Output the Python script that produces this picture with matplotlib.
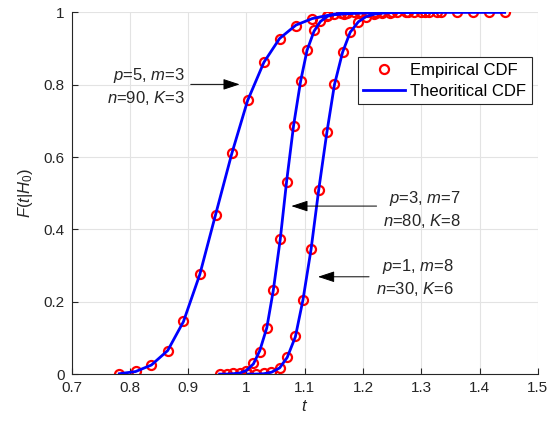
import matplotlib
matplotlib.use("Agg")
import matplotlib.pyplot as plt
from matplotlib.ticker import FuncFormatter

plt.rcParams['font.family'] = ['Liberation Sans', 'DejaVu Sans']
plt.rcParams['mathtext.fontset'] = 'custom'
plt.rcParams['mathtext.rm'] = 'Liberation Sans'
plt.rcParams['mathtext.it'] = 'Liberation Sans:italic'
plt.rcParams['font.size'] = 11

# Данные, считанные с графика
# p=5, m=3, n=90, K=3
t1 = [0.782, 0.810, 0.837, 0.865, 0.892, 0.920, 0.947, 0.975, 1.002, 1.030,
      1.057, 1.085, 1.113, 1.140, 1.168, 1.195, 1.223, 1.250, 1.278, 1.306,
      1.333, 1.361, 1.388, 1.416, 1.443]
emp1 = [0.0, 0.008, 0.026, 0.064, 0.147, 0.276, 0.440, 0.612, 0.759, 0.863,
        0.926, 0.962, 0.983, 0.992, 0.996, 0.998, 0.999, 1.0, 1.0, 1.0,
        1.0, 1.0, 1.0, 1.0, 1.0]
theo1 = [0.001, 0.007, 0.025, 0.065, 0.145, 0.275, 0.440, 0.610, 0.756, 0.862,
         0.928, 0.965, 0.983, 0.992, 0.996, 0.998, 0.999, 1.0, 1.0, 1.0,
         1.0, 1.0, 1.0, 1.0, 1.0]

# p=3, m=7, n=80, K=8
t2 = [0.954, 0.966, 0.977, 0.989, 1.000, 1.012, 1.023, 1.035, 1.046, 1.058,
      1.069, 1.081, 1.093, 1.104, 1.116, 1.127, 1.139, 1.150, 1.162, 1.173,
      1.185, 1.196, 1.208, 1.220, 1.231]
emp2 = [0.0, 0.0, 0.003, 0.004, 0.009, 0.030, 0.062, 0.128, 0.232, 0.374,
        0.532, 0.686, 0.810, 0.896, 0.951, 0.976, 0.989, 0.995, 0.998, 0.999,
        1.0, 1.0, 1.0, 1.0, 1.0]
theo2 = [0.0, 0.0, 0.001, 0.003, 0.010, 0.028, 0.065, 0.128, 0.230, 0.372,
         0.533, 0.688, 0.810, 0.895, 0.948, 0.975, 0.989, 0.995, 0.998, 0.999,
         1.0, 1.0, 1.0, 1.0, 1.0]

# p=1, m=8, n=30, K=6
t3 = [1.003, 1.016, 1.030, 1.043, 1.057, 1.070, 1.084, 1.097, 1.111, 1.124,
      1.138, 1.151, 1.165, 1.178, 1.192, 1.205, 1.219, 1.232, 1.246, 1.259,
      1.273, 1.287, 1.300, 1.314, 1.327]
emp3 = [0.0, 0.0, 0.004, 0.006, 0.016, 0.046, 0.105, 0.205, 0.346, 0.509,
        0.670, 0.801, 0.891, 0.946, 0.974, 0.988, 0.995, 0.998, 0.999, 1.0,
        1.0, 1.0, 1.0, 1.0, 1.0]
theo3 = [0.0, 0.0, 0.001, 0.005, 0.017, 0.046, 0.103, 0.205, 0.346, 0.509,
         0.668, 0.800, 0.890, 0.945, 0.974, 0.988, 0.995, 0.998, 0.999, 1.0,
         1.0, 1.0, 1.0, 1.0, 1.0]

labels = [r'$p$=5, $m$=3' + '\n' + r'$n$=90, $K$=3',
          r'$p$=3, $m$=7' + '\n' + r'$n$=80, $K$=8',
          r'$p$=1, $m$=8' + '\n' + r'$n$=30, $K$=6']

fig = plt.figure(figsize=(5.5, 4.28), dpi=100)
ax = fig.add_axes([0.130, 0.126, 0.848, 0.845])

edge = '#262626'
series = [(t1, emp1, theo1), (t2, emp2, theo2), (t3, emp3, theo3)]
for i, (t, e, th) in enumerate(series):
    ax.plot(t, th, '-', color='#0000ff', lw=2.0, zorder=3,
            label='Theoritical CDF' if i == 0 else None)
    ax.plot(t, e, 'o', mfc='none', mec='#ff0000', mew=1.6, ms=6.5, zorder=2,
            label='Empirical CDF' if i == 0 else None)

ax.set_xlim(0.7, 1.5)
ax.set_ylim(0, 1)
ax.set_xticks([0.7, 0.8, 0.9, 1.0, 1.1, 1.2, 1.3, 1.4, 1.5])
ax.set_yticks([0, 0.2, 0.4, 0.6, 0.8, 1.0])
fmt = FuncFormatter(lambda v, p: f"{v:g}")
ax.xaxis.set_major_formatter(fmt)
ax.yaxis.set_major_formatter(fmt)
ax.grid(True, color='#e3e3e3', lw=0.8)
ax.set_axisbelow(True)
for s in ['top', 'right']:
    ax.spines[s].set_visible(False)
for s in ['left', 'bottom']:
    ax.spines[s].set_color(edge)
    ax.spines[s].set_linewidth(0.8)
ax.tick_params(direction='in', length=4, color=edge, labelcolor=edge,
               labelsize=11, top=False, right=False)
ax.tick_params(axis='x', pad=5)
ax.tick_params(axis='y', pad=5)

ax.set_xlabel(r'$t$', fontsize=12, color=edge, labelpad=3)
ax.set_ylabel(r'$F(t|H_0)$', fontsize=12, color=edge, labelpad=6)

# Подписи со стрелками
ann = [((0.9885, 0.801), (0.9045, 0.801), (0.8946, 0.795)),
       ((1.077, 0.4645), (1.2233, 0.4645), (1.368, 0.456)),
       ((1.1227, 0.269), (1.2104, 0.269), (1.3558, 0.267))]
for (tip, tail, txt), lab in zip(ann, labels):
    ax.annotate('', xy=tip, xytext=tail,
                arrowprops=dict(arrowstyle='-|>,head_length=0.85,head_width=0.28',
                                color='k', lw=0.7, mutation_scale=12,
                                shrinkA=0, shrinkB=0))
    ax.text(txt[0], txt[1], lab, ha='right', va='center', fontsize=12,
            color=edge, linespacing=1.3)

h, l = ax.get_legend_handles_labels()
order = [l.index('Empirical CDF'), l.index('Theoritical CDF')]
leg = ax.legend([h[k] for k in order], [l[k] for k in order],
                loc='upper left', bbox_to_anchor=(0.6135, 0.877),
                fancybox=False, framealpha=1, edgecolor=edge,
                fontsize=12, borderpad=0.35, handlelength=2.5,
                handletextpad=0.3, labelspacing=0.35, borderaxespad=0)
leg.get_frame().set_linewidth(0.8)

fig.savefig('out.png', dpi=100)
